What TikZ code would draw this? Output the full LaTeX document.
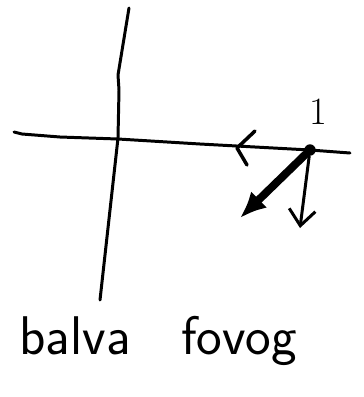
\documentclass[tikz,border=0pt]{standalone}
\usepackage{tikz}
\usetikzlibrary{arrows.meta}

\begin{document}
\begin{tikzpicture}[x=0.02cm,y=-0.02cm,line cap=round,line join=round]
\useasboundingbox (0,0) rectangle (364,397);
\tikzset{axisline/.style={line width=1.7pt},
  handtext/.style={font=\sffamily\fontsize{31}{35}\selectfont,inner sep=0pt}}
\coordinate (v-top) at (129,8);
\coordinate (v-bot) at (100,300);
\coordinate (h-left) at (14,132);
\coordinate (h-right) at (350,153);
\node (p-1) at (310,150) [circle,fill,inner sep=0pt,minimum size=6.5pt] {};
\coordinate (tip-0) at (240,218);
\coordinate (tip-1) at (300,228);
\draw[axisline] (v-top) -- (118,75) -- (119,90) -- (118,138) -- (v-bot);
\draw[axisline] (h-left) -- (22,134) -- (60,137) -- (118,139) -- (200,144) -- (p-1.center) -- (h-right);
\draw[line width=2pt] (255,131) -- (237,148) -- (247,165);
\draw[-{Latex[length=15pt,width=13pt]},line width=4.5pt] (p-1) -- (tip-0);
\draw[-{Straight Barb[length=9pt,width=15pt]},line width=1.7pt] (p-1) -- (tip-1);
\node (lbl-1) at (318,112) [font=\fontsize{22}{26}\selectfont] {1};
\node (word-0) at (75,354) [handtext,anchor=base] {balva};
\node (word-1) at (239,354) [handtext,anchor=base] {fovog};
\end{tikzpicture}
\end{document}
